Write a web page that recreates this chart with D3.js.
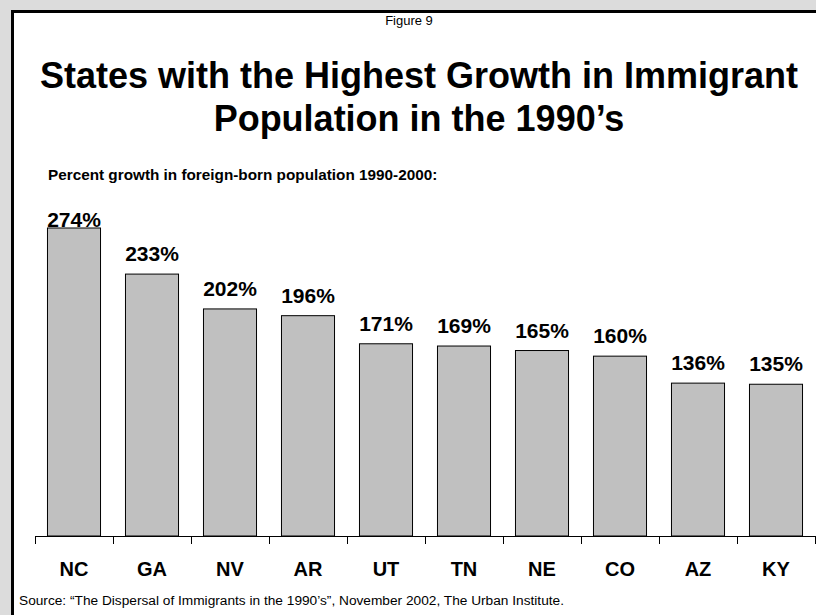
<!DOCTYPE html>
<html><head><meta charset="utf-8">
<script src="https://cdn.jsdelivr.net/npm/d3@7"></script>
<style>body{margin:0;background:#dcdcdc;}svg{display:block;font-family:Arial,"Liberation Sans",sans-serif;}</style>
</head><body>
<script>
const states = ["NC","GA","NV","AR","UT","TN","NE","CO","AZ","KY"];
const growth = [274,233,202,196,171,169,165,160,136,135];
const valueLabels = ["274%","233%","202%","196%","171%","169%","165%","160%","136%","135%"];
const figureLabel = "Figure 9";
const titleLines = ["States with the Highest Growth in Immigrant","Population in the 1990\u2019s"];
const subtitle = "Percent growth in foreign-born population 1990-2000:";
const source = "Source: \u201cThe Dispersal of Immigrants in the 1990\u2019s\u201d, November 2002, The Urban Institute.";

const W = 816, H = 615;
const svg = d3.select("body").append("svg").attr("width", W).attr("height", H);
svg.append("rect").attr("x",0).attr("y",0).attr("width",W).attr("height",H).attr("fill","#dcdcdc");
svg.append("rect").attr("x",12.5).attr("y",11.5).attr("width",W+10).attr("height",H+10)
  .attr("fill","#fff").attr("stroke","#000").attr("stroke-width",3);

svg.append("text").attr("x",409).attr("y",25).attr("text-anchor","middle")
  .attr("font-size",13).text(figureLabel);
svg.selectAll("text.title").data(titleLines).join("text").attr("class","title")
  .attr("x",419).attr("y",(d,i)=>88+i*43).attr("text-anchor","middle")
  .attr("font-size",36).attr("font-weight","bold").text(d=>d);
svg.append("text").attr("x",48).attr("y",180).attr("font-size",15.3).attr("font-weight","bold").text(subtitle);
svg.append("text").attr("x",19).attr("y",605).attr("font-size",13.7).text(source);

const x = d3.scaleBand().domain(states).range([35,815]).paddingInner(0.32).paddingOuter(0.16);
const y = d3.scaleLinear().domain([0,274]).range([536,228]);
const data = states.map((s,i)=>({s, v:growth[i], l:valueLabels[i]}));

svg.selectAll("rect.bar").data(data).join("rect").attr("class","bar")
  .attr("x",d=>x(d.s)).attr("y",d=>y(d.v)).attr("width",x.bandwidth()).attr("height",d=>536-y(d.v))
  .attr("fill","#c0c0c0").attr("stroke","#000").attr("stroke-width",1);

svg.selectAll("text.val").data(data).join("text").attr("class","val")
  .attr("x",d=>x(d.s)+x.bandwidth()/2).attr("y",d=>Math.max(y(d.v)-13, 227))
  .attr("text-anchor","middle").attr("font-size",21).attr("font-weight","bold").text(d=>d.l);

// axis
const ax = svg.append("g");
ax.append("line").attr("x1",35).attr("x2",815).attr("y1",536.5).attr("y2",536.5).attr("stroke","#000");
const tickXs = states.map(s=>x(s)-x.step()*x.paddingInner()/2).concat([815]);
ax.selectAll("line.tick").data(tickXs).join("line").attr("class","tick")
  .attr("x1",d=>Math.round(d)+0.5).attr("x2",d=>Math.round(d)+0.5).attr("y1",536).attr("y2",544).attr("stroke","#000");
ax.selectAll("text").data(states).join("text")
  .attr("x",d=>x(d)+x.bandwidth()/2).attr("y",576).attr("text-anchor","middle")
  .attr("font-size",20).attr("font-weight","bold").text(d=>d);
</script>
</body></html>
